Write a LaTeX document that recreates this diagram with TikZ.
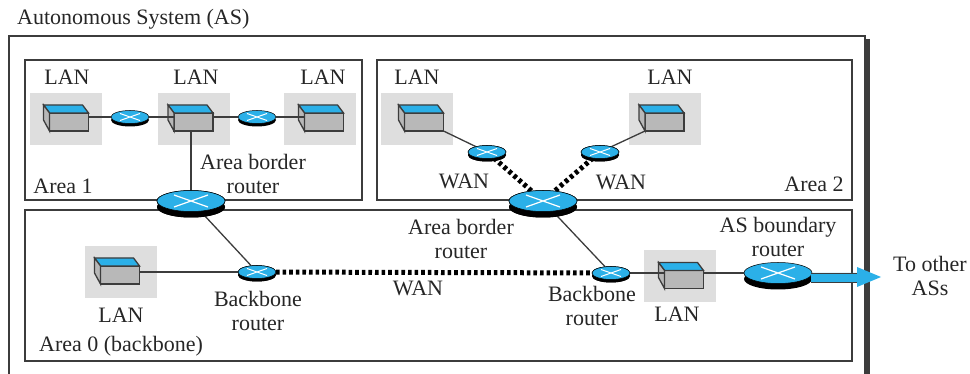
\documentclass[tikz,border=0pt]{standalone}
\usepackage{fontspec}
\setmainfont{Liberation Serif}
\usetikzlibrary{shapes.geometric}
\definecolor{netblue}{HTML}{2BB0E8}
\definecolor{langray}{HTML}{DEDEDE}
\definecolor{boxgray}{HTML}{B8B8B8}
\definecolor{framegray}{HTML}{3C3C3C}
\tikzset{
  areabox/.style={draw=framegray, line width=1.3pt},
  lanpad/.style={fill=langray, minimum width=72pt, minimum height=52pt, inner sep=0pt, outer sep=0pt},
  lanfront/.style={draw=framegray, fill=boxgray, line width=1.3pt, minimum width=39pt, minimum height=18pt, inner sep=0pt, outer sep=0pt},
  smallrouter/.style={ellipse, draw=black, fill=netblue, line width=.5pt, minimum width=38pt, minimum height=13pt, inner sep=0pt, outer sep=0pt},
  bigrouter/.style={ellipse, draw=black, fill=netblue, line width=.5pt, minimum width=68pt, minimum height=21pt, inner sep=0pt, outer sep=0pt},
  link/.style={draw=framegray, line width=1.3pt},
  wanlink/.style={draw=black, line width=5pt, dash pattern=on 3.6pt off 3pt},
  label/.style={align=center, inner sep=0pt, font=\fontsize{22}{23.5}\selectfont, text=black!85}
}
% gray pad and box: name, pad x, pad y, box x, box y
\newcommand{\lanunit}[5]{
  \node [lanpad] (#1pad) at (#2,#3) {};
  \node [lanfront] (#1) at (#4,#5) {};
  \draw [framegray, fill=netblue, line width=1.3pt] (#1.north west) -- ++(-6,-8) -- ++(39,0) -- (#1.north east) -- cycle;
  \draw [framegray, fill=boxgray, line width=1.3pt] (#1.north west) -- ++(-6,-8) -- ++(0,15) -- (#1.south west) -- cycle;
}
% router with its dark underside: name, x, y
\newcommand{\smallrouter}[3]{
  \fill [black] (#2,#3+3) ellipse (19 and 6.5);
  \node [smallrouter] (#1) at (#2,#3) {};
  \draw [white, line width=1pt] (#2-10,#3-3.5) -- (#2+10,#3+3.5) (#2-10,#3+3.5) -- (#2+10,#3-3.5);
}
\newcommand{\bigrouter}[3]{
  \fill [black] (#2,#3+6) ellipse (34 and 10.5);
  \node [bigrouter] (#1) at (#2,#3) {};
  \draw [white, line width=1.2pt] (#2-17,#3-6) -- (#2+17,#3+6) (#2-17,#3+6) -- (#2+17,#3-6);
}
\begin{document}
\begin{tikzpicture}[x=1pt, y=-1pt]
  \useasboundingbox (0,0) rectangle (970,374);
  % frames
  \draw [areabox] (9,385) -- (9,36) -- (865,36) -- (865,385);
  \draw [framegray, line width=5pt] (867.5,39) -- (867.5,385);
  \draw [areabox] (25,60) rectangle (362,200);
  \draw [areabox] (377,60) rectangle (852,200);
  \draw [areabox] (25,210) rectangle (852,361);
  % LANs
  \lanunit{lanA}{66}{119}{69}{122}
  \lanunit{lanB}{194}{119}{193.5}{122}
  \lanunit{lanC}{320}{119}{324}{122}
  \lanunit{lanD}{417}{119}{424}{122}
  \lanunit{lanE}{665}{119}{664.5}{122}
  \lanunit{lanF}{121}{272}{120}{275}
  \lanunit{lanG}{680}{276}{684}{279.5}
  % routers
  \smallrouter{rtA}{130}{117}
  \smallrouter{rtB}{257}{117}
  \smallrouter{rtC}{487}{152}
  \smallrouter{rtD}{600}{152}
  \smallrouter{rtE}{257}{272}
  \smallrouter{rtF}{611}{273}
  \bigrouter{abrA}{191}{201}
  \bigrouter{abrB}{543}{201}
  \bigrouter{asbr}{778}{273}
  % connectors
  \draw [link] (lanA.east |- rtA) -- (rtA);
  \draw [link] (rtA) -- (lanB.west |- rtA);
  \draw [link] (lanB.east |- rtB) -- (rtB);
  \draw [link] (rtB) -- (lanC.west |- rtB);
  \draw [link] (abrA.north) -- (abrA.north |- lanB.south);
  \draw [link] (lanD.south east) -- (rtC);
  \draw [link] (lanE.south west) -- (rtD);
  \draw [link] (abrA) -- (rtE);
  \draw [link] (abrB) -- (rtF);
  \draw [link] (lanF.east |- rtE) -- (rtE);
  \draw [link] (rtF) -- (lanG.west |- rtF);
  \draw [link] (lanG.east |- asbr) -- (asbr);
  \draw [wanlink] (rtE) -- (rtF);
  \draw [wanlink] (rtC) -- (abrB);
  \draw [wanlink] (rtD) -- (abrB);
  % routers again over the ends of the wide links
  \smallrouter{rtC}{487}{152}
  \smallrouter{rtD}{600}{152}
  \smallrouter{rtE}{257}{272}
  \smallrouter{rtF}{611}{273}
  \bigrouter{abrB}{543}{201}
  \bigrouter{abrA}{191}{201}
  % way out
  \coordinate (exit) at (881,277);
  \fill [netblue] (exit) -- (857,267) -- (857,273) -- (811,273) -- (811,282) -- (857,282) -- (857,287) -- cycle;
  \draw [framegray, line width=.6pt] (811,273) -- (857,273) (811,282) -- (857,282);
  % labels
  \node [label, anchor=west] (title) at (17,19) {Autonomous System (AS)};
  \node [label] (lanAt) at (67,77) {LAN};
  \node [label] (lanBt) at (196,77) {LAN};
  \node [label] (lanCt) at (323,77) {LAN};
  \node [label] (lanDt) at (417,77) {LAN};
  \node [label] (lanEt) at (670,77) {LAN};
  \node [label] (lanFt) at (121,315) {LAN};
  \node [label] (lanGt) at (677,314) {LAN};
  \node [label] (abrAt) at (253,174) {Area border\\router};
  \node [label] (abrBt) at (461,239) {Area border\\router};
  \node [label] (area1) at (63,186) {Area 1};
  \node [label] (area2) at (814,184) {Area 2};
  \node [label] (area0) at (121,346) {Area 0 (backbone)};
  \node [label] (wanA) at (464,181) {WAN};
  \node [label] (wanB) at (621,182) {WAN};
  \node [label] (wanC) at (418,288) {WAN};
  \node [label] (bbA) at (258,311) {Backbone\\router};
  \node [label] (bbB) at (592,306) {Backbone\\router};
  \node [label] (asbrt) at (778,237) {AS boundary\\router};
  \node [label] (other) at (930,276) {To other\\ASs};
\end{tikzpicture}
\end{document}
